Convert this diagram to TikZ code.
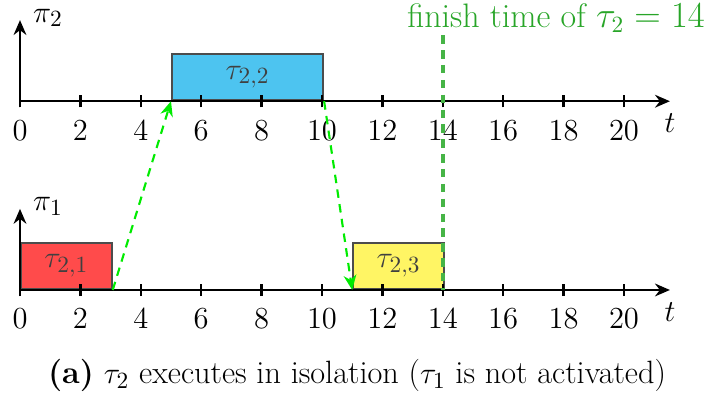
\documentclass[tikz,border=0pt]{standalone}
\usetikzlibrary{arrows.meta}
\definecolor{boxblue}{RGB}{77,196,240}
\definecolor{boxred}{RGB}{255,75,75}
\definecolor{boxyellow}{RGB}{255,245,100}
\definecolor{fingreen}{RGB}{40,165,40}
\definecolor{fingreenline}{RGB}{70,180,70}
\definecolor{arrgreen}{RGB}{0,235,0}
\begin{document}
\begin{tikzpicture}[x=0.5cm,y=1cm,
  every node/.style={font=\fontsize{15.2}{18}\selectfont},
  axisline/.style={line width=1.2pt,-{Stealth[length=7pt,width=6pt]}},
  tickline/.style={line width=1.2pt},
  jobbox/.style={draw=black!70,line width=1pt,inner sep=0pt,minimum height=0.762cm,anchor=south west,text=black!75},
  flow/.style={arrgreen,line width=1pt,dashed,dash pattern=on 4pt off 3pt,-{Stealth[length=7pt,width=6pt]}},
  finline/.style={fingreenline,line width=1.6pt,dash pattern=on 4pt off 3pt}]
\useasboundingbox (-0.662,0) rectangle (22.649,6.573);
% boxes
\node[jobbox,fill=boxblue,minimum width=2.5cm] (t22) at (5,4.897) {$\tau_{2,2}$};
\node[jobbox,fill=boxred,minimum width=1.5cm] (t21) at (0,1.772) {$\tau_{2,1}$};
\node[jobbox,fill=boxyellow,minimum width=1.5cm] (t23) at (11,1.772) {$\tau_{2,3}$};
% axes
\foreach \yy/\lab/\nm in {4.897/\pi_2/top,1.772/\pi_1/bot}{
  \coordinate (o\nm) at (0,\yy);
  \coordinate (e\nm) at (21.52,\yy);
  \coordinate (v\nm) at (0,\yy+1.343);
  \draw[axisline] (o\nm) -- (e\nm);
  \draw[axisline] ([yshift=-0.1cm]o\nm) -- (v\nm);
  \node[anchor=west,inner sep=0pt] (p\nm) at (0.42,\yy+1.38) {$\lab$};
  \node[inner sep=0pt] (t\nm) at (21.52,\yy-0.37) {$t$};
  \foreach \k in {0,2,...,20}{
    \draw[tickline] (\k,\yy-0.1) -- (\k,\yy+0.1);
    \node[inner sep=0pt] (l\nm\k) at (\k,\yy-0.48) {$\k$};
  }
}
% finish time
\node[fingreen,inner sep=0pt,font=\fontsize{16}{19}\selectfont] (fin) at (17.75,6.27) {finish time of $\tau_2 = 14$};
\coordinate (fintop) at (14,5.99);
\coordinate (finbot) at (14,1.772);
\draw[finline] (fintop) -- (finbot);
% flow arrows
\draw[flow] (t21.south east) -- (t22.south west);
\draw[flow] (t22.south east) -- (t23.south west);
% caption
\node (cap) at (11.16,0.35) {\textbf{(a)} $\tau_2$ executes in isolation ($\tau_1$ is not activated)};
\end{tikzpicture}
\end{document}
